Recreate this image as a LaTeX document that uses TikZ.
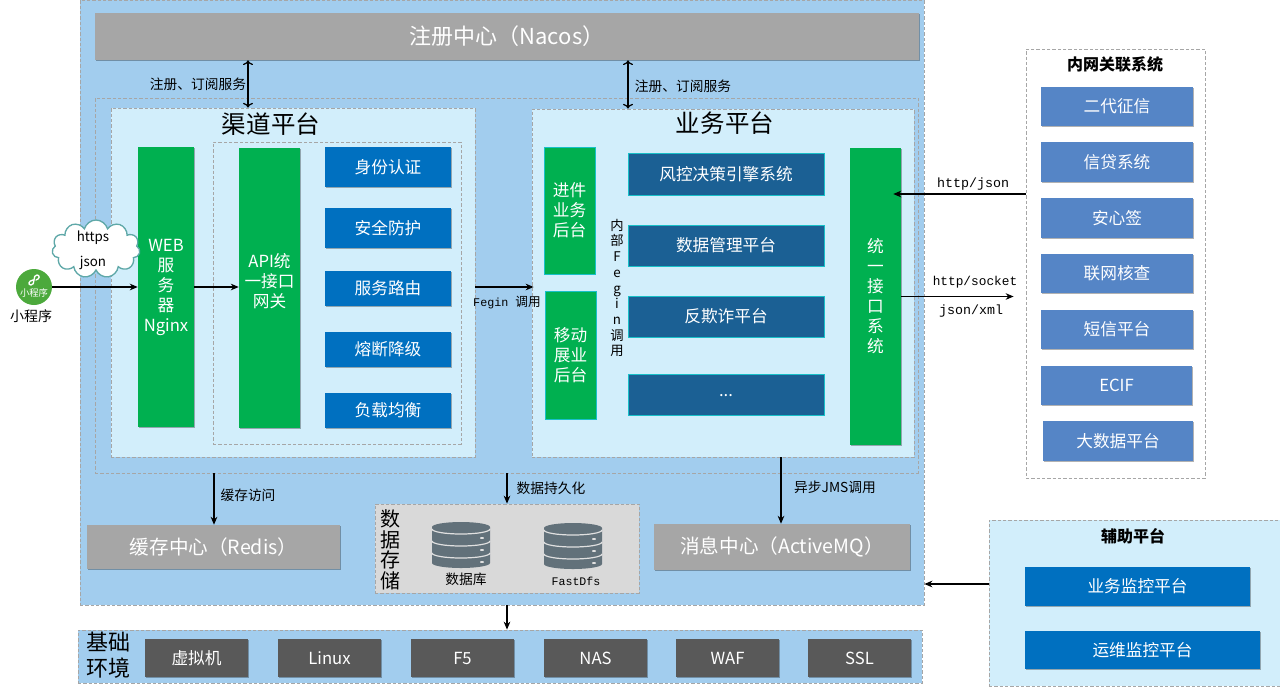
\documentclass[tikz,border=0pt]{standalone}
\usepackage{fontspec}
\setmainfont{Noto Sans CJK SC}
\newfontfamily\labelmono{Liberation Mono}
\usetikzlibrary{arrows.meta, shapes.symbols, shadows}

\tikzset{
	boxsize/.style 2 args = {minimum width = #1*.75pt, minimum height = #2*.75pt},
	area/.style = {draw = dashline, dash pattern = on 2.5pt off 1.5pt, line width = .6pt, inner sep = 0},
	block/.style = {inner sep = 0, text = white, align = center, drop shadow = {shadow xshift = .8pt, shadow yshift = -1pt, fill = black, opacity = .3}, font = \fontsize{12.5}{15}\selectfont},
	greenbox/.style = {block, fill = boxgreen},
	greenedge/.style = {block, fill = boxgreen, draw = edgeteal, line width = .6pt},
	bluebox/.style = {block, fill = boxblue},
	navybox/.style = {block, fill = boxnavy, draw = edgeteal, line width = .7pt},
	sidebox/.style = {block, fill = boxside},
	graybox/.style = {block, fill = boxgray, font = \fontsize{14.7}{18}\selectfont},
	basebox/.style = {block, fill = boxdark, boxsize = {103}{38}},
	tag/.style = {inner sep = 0, font = \fontsize{10.3}{12}\selectfont},
	monotag/.style = {inner sep = 0, font = \labelmono\fontsize{10}{12}\selectfont},
	title/.style = {inner sep = 0, font = \fontsize{18.4}{22}\selectfont},
	bigside/.style = {inner sep = 0, align = center, font = \fontsize{16.5}{19}\selectfont},
	flow/.style = {-{Stealth[length = 6pt, width = 5pt]}, line width = .9pt},
	both/.style = {<->, line width = .9pt},
	dbicon/.pic = {
		\fill[dbgray] (-29,-18) arc (180:360:29 and 5) -- (29,18) arc (0:180:29 and 5) -- cycle;
		\draw[white!88!black, line width = .9pt] (-29,-16) arc (180:0:29 and 5);
		\draw[white!88!black, line width = .9pt] (-29,-4) arc (180:0:29 and 5);
		\draw[white!88!black, line width = .9pt] (-29,8) arc (180:0:29 and 5);
		\fill[white!88!black] (21,-7) ellipse (2 and 1);
		\fill[white!88!black] (21,5) ellipse (2 and 1);
		\fill[white!88!black] (21,17) ellipse (2 and 1);
	},
}

\begin{document}
\begin{tikzpicture}[x = .75pt, y = -.75pt]
	\definecolor{dashline}{HTML}{A6A6A6}
	\definecolor{outerblue}{HTML}{A2CDEE}
	\definecolor{lightblue}{HTML}{D2EEFB}
	\definecolor{boxgreen}{HTML}{00B050}
	\definecolor{edgeteal}{HTML}{18C0C8}
	\definecolor{boxblue}{HTML}{0070C0}
	\definecolor{boxnavy}{HTML}{1B6094}
	\definecolor{boxside}{HTML}{5585C6}
	\definecolor{boxgray}{HTML}{A6A6A6}
	\definecolor{boxdark}{HTML}{595959}
	\definecolor{stogray}{HTML}{D9D9D9}
	\definecolor{dbgray}{HTML}{62717A}
	\definecolor{cloudedge}{HTML}{5FA8A8}
	\definecolor{appgreen}{HTML}{4CA93C}
	\useasboundingbox (0,0) rectangle (1280,693);

	% backgrounds
	\node [area, fill = outerblue, boxsize = {844}{605}] (core) at (502,302.5) {};
	\node [area, boxsize = {823}{375}] (apps) at (506.5,285.5) {};
	\node [area, fill = lightblue, boxsize = {364}{349}] (channel) at (293,282.5) {};
	\node [area, fill = lightblue, boxsize = {382}{348}] (business) at (723,283) {};
	\node [area, boxsize = {248}{302}] (gateway) at (337,293) {};
	\node [area, fill = white, boxsize = {179}{429}] (intranet) at (1115.5,263.5) {};
	\node [area, fill = lightblue, boxsize = {291}{166}] (support) at (1134.5,603) {};
	\node [area, fill = outerblue, boxsize = {844}{53}] (base) at (500,656.5) {};
	\node [area, fill = stogray, boxsize = {264}{89}] (storage) at (507,548.5) {};

	\node [graybox, font = \fontsize{16.5}{20}\selectfont, boxsize = {824}{47}] (nacos) at (507,36.5) {注册中心（Nacos）};
	\node [title] (channeltitle) at (271,124) {渠道平台};
	\node [title] (businesstitle) at (725,123) {业务平台};

	% channel platform
	\node [greenbox, boxsize = {56}{280}] (web) at (166,287) {WEB\\服\\务\\器\\Nginx};
	\node [greenbox, boxsize = {61}{280}] (api) at (269.5,288) {API统\\一接口\\网关\\[-3pt]\mbox{}};
	\node [bluebox, boxsize = {126}{40}] (auth) at (388,167) {身份认证};
	\node [bluebox, boxsize = {126}{40}] (safe) at (388,228) {安全防护};
	\node [bluebox, boxsize = {126}{35}] (route) at (388,288.5) {服务路由};
	\node [bluebox, boxsize = {126}{35}] (fuse) at (388,349.5) {熔断降级};
	\node [bluebox, boxsize = {126}{35}] (balance) at (388,410.5) {负载均衡};

	% business platform
	\node [greenedge, boxsize = {51}{127}] (loan) at (569.5,210.5) {进件\\业务\\后台};
	\node [greenedge, boxsize = {51}{128}] (mobile) at (570.5,355) {移动\\展业\\后台};
	\node [navybox, boxsize = {196}{42}] (risk) at (726,174) {风控决策引擎系统};
	\node [navybox, boxsize = {196}{41}] (datamgr) at (726,245.5) {数据管理平台};
	\node [navybox, boxsize = {196}{41}] (fraud) at (726,316.5) {反欺诈平台};
	\node [navybox, boxsize = {196}{41}] (more) at (726,394.5) {\raisebox{-3pt}{...}};
	\node [greenbox, boxsize = {51}{297}] (unify) at (875.5,296.5) {统\\一\\接\\口\\系\\统};
	\node [tag, align = center, font = \fontsize{10}{11.8}\selectfont] (inner) at (617,288) {内\\部\\F\\e\\g\\i\\n\\调\\用};

	% intranet systems
	\node [inner sep = 0, font = \bfseries\fontsize{12}{14}\selectfont] (intranettitle) at (1115,64) {内网关联系统};
	\node [sidebox, boxsize = {152}{39}] (credit) at (1117,106.5) {二代征信};
	\node [sidebox, boxsize = {152}{40}] (loans) at (1117,162) {信贷系统};
	\node [sidebox, boxsize = {152}{40}] (sign) at (1117,218) {安心签};
	\node [sidebox, boxsize = {152}{39}] (verify) at (1117,273.5) {联网核查};
	\node [sidebox, boxsize = {152}{39}] (sms) at (1117,329.5) {短信平台};
	\node [sidebox, boxsize = {151}{39}] (ecif) at (1116.5,385.5) {ECIF};
	\node [sidebox, boxsize = {150}{40}] (bigdata) at (1118,441) {大数据平台};

	% support platform
	\node [inner sep = 0, font = \bfseries\fontsize{12}{14}\selectfont] (supporttitle) at (1133,536) {辅助平台};
	\node [bluebox, boxsize = {225}{39}] (monbiz) at (1137.5,586.5) {业务监控平台};
	\node [bluebox, boxsize = {235}{38}] (monops) at (1142.5,650) {运维监控平台};

	% middleware
	\node [graybox, boxsize = {253}{44}] (redis) at (213.5,547) {缓存中心（Redis）};
	\node [graybox, boxsize = {256}{46}] (mq) at (782,547) {消息中心（ActiveMQ）};
	\node [bigside, font = \fontsize{15}{15.5}\selectfont] (storagetitle) at (390,550) {数\\据\\存\\储};
	\pic at (461,545) {dbicon};
	\pic at (573,546) {dbicon};
	\node [tag] (dblabel) at (466,579) {数据库};
	\node [monotag, font = \labelmono\fontsize{8.7}{12}\selectfont] (dfslabel) at (576,581) {FastDfs};

	% base environment
	\node [bigside] (basetitle) at (108,655) {基础\\环境};
	\node [basebox] (vm) at (196.5,658) {虚拟机};
	\node [basebox] (linux) at (329.5,658) {Linux};
	\node [basebox] (ffive) at (462.5,658) {F5};
	\node [basebox] (nas) at (595.5,658) {NAS};
	\node [basebox] (waf) at (727.5,658) {WAF};
	\node [basebox] (ssl) at (859.5,658) {SSL};

	% mini program
	\node [circle, fill = appgreen, minimum size = 36*.75pt, inner sep = 0] (app) at (34,287) {};
	\draw[white, line width = 1pt, line cap = round] (33,280) .. controls (28,281) and (28,285) .. (31,285) .. controls (33,285) and (34,283) .. (34,280) .. controls (34,277) and (35,275) .. (37,275) .. controls (40,275) and (40,279) .. (36,280);
	\node [inner sep = 0, text = white, font = \fontsize{7}{8}\selectfont] (applabel) at (34,293) {小程序};
	\node [inner sep = 0, font = \fontsize{10.5}{12}\selectfont] (apptitle) at (31,316) {小程序};
	\node [cloud, cloud puffs = 11, aspect = 1.5, draw = cloudedge, fill = white, line width = 1pt, minimum width = 88*.75pt, minimum height = 58*.75pt, inner sep = 0] (cloudnote) at (96,249) {};
	\node [inner sep = 0, font = \fontsize{10}{12}\selectfont] (httpstext) at (93,238) {https};
	\node [inner sep = 0, font = \fontsize{10}{12}\selectfont] (jsontext) at (93,263) {json};

	% anchors of the connectors
	\coordinate (regleft) at (248,84);
	\coordinate (regright) at (628,84);
	\coordinate (cachex) at (214,500);
	\coordinate (mqx) at (781,500);
	\coordinate (httpin) at (960,194);
	\coordinate (httpout) at (960,296.5);
	\coordinate (supporty) at (960,584);

	\draw[both] (regleft |- nacos.south) -- (regleft |- channel.north);
	\draw[both] (regright |- nacos.south) -- (regright |- business.north);
	\draw[flow] (app.east) -- (web.west |- app.east);
	\draw[flow] (web.east |- app.east) -- (api.west |- app.east);
	\draw[flow, shorten > = -1.5pt] (channel.east |- app.east) -- (business.west |- app.east);
	\draw[flow, shorten > = -6pt] (intranet.west |- httpin) -- (unify.east |- httpin);
	\draw[flow, shorten > = 9pt] (unify.east |- httpout) -- (intranet.west |- httpout);
	\draw[flow] (cachex |- apps.south) -- (cachex |- redis.north);
	\draw[flow] (apps.south -| storage.north) -- (storage.north);
	\draw[flow] (mqx |- business.south) -- (mqx |- mq.north);
	\draw[flow] (core.south -| storage.south) -- (base.north -| storage.south);
	\draw[flow] (support.west |- supporty) -- (core.east |- supporty);

	\node [tag] (reglefttag) at (198,84) {注册、订阅服务};
	\node [tag] (regrighttag) at (683,86) {注册、订阅服务};
	\node [monotag, font = \labelmono\fontsize{8.8}{10}\selectfont] (fegintag) at (507,303) {Fegin \fontsize{9.5}{10}\selectfont\rmfamily 调用};
	\node [monotag] (httptag) at (973,184) {http/json};
	\node [monotag, font = \labelmono\fontsize{9.6}{12}\selectfont] (sockettag) at (975,282) {http/socket};
	\node [monotag] (xmltag) at (971,311) {json/xml};
	\node [tag] (cachetag) at (248,495) {缓存访问};
	\node [tag] (savetag) at (551,488) {数据持久化};
	\node [tag] (jmstag) at (835,487) {异步JMS调用};
\end{tikzpicture}
\end{document}
